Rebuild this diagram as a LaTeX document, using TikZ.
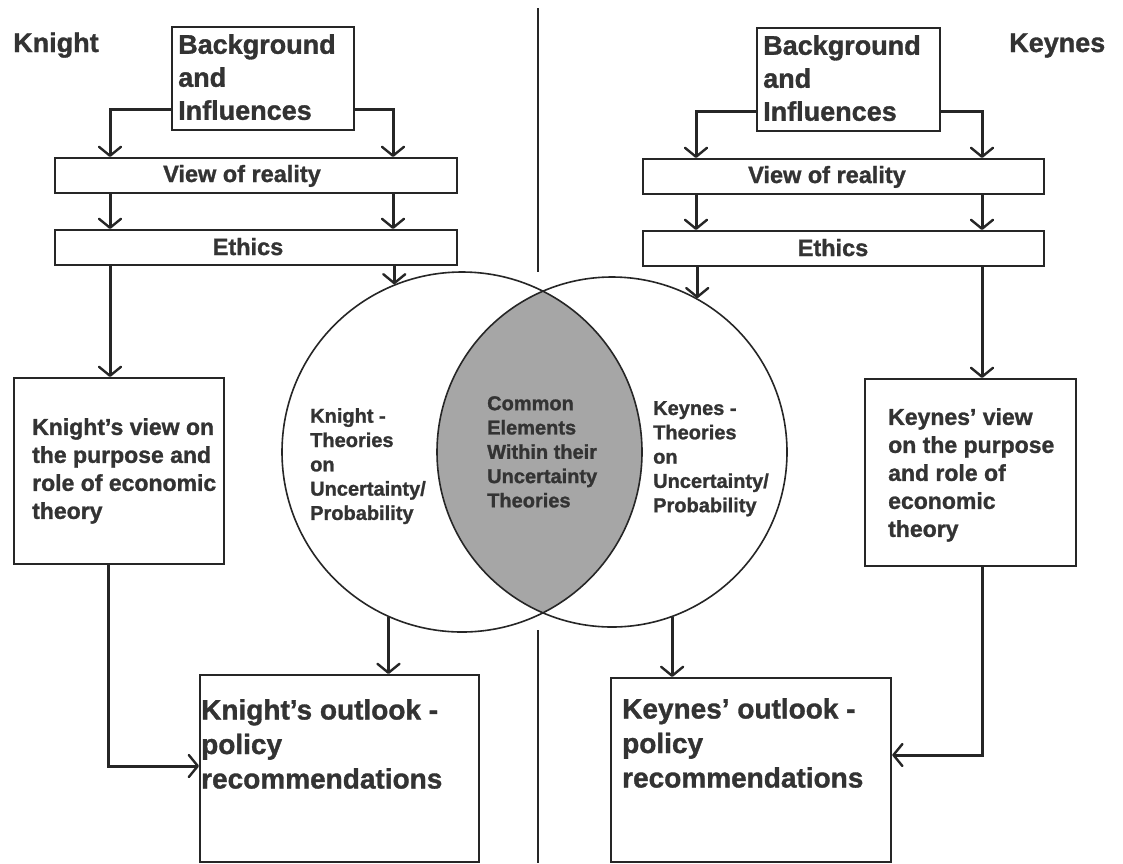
\documentclass[tikz,border=0pt]{standalone}
\usepackage{fontspec}
\setmainfont{Liberation Sans}[BoldFeatures={FakeBold=1.2}]
\usetikzlibrary{arrows.meta,calc}
\definecolor{ink}{HTML}{262626}
\definecolor{txt}{HTML}{333333}
\definecolor{lens}{HTML}{A6A6A6}
\begin{document}
\begin{tikzpicture}[x=1pt,y=-1pt,
  box/.style={draw=ink,line width=2.2pt,rectangle,inner sep=0pt,anchor=north west},
  arr/.style={draw=ink,line width=3pt,-{Straight Barb[length=9pt,width=22pt,line width=2.4pt,round]}},
  sep/.style={draw=ink,line width=2.6pt},
  ring/.style={circle,draw=ink,line width=1.6pt,inner sep=0pt},
  t27/.style={font=\bfseries\fontsize{27}{33}\selectfont,text=txt,inner sep=0pt,align=left},
  t28/.style={font=\bfseries\fontsize{28}{34.5}\selectfont,text=txt,inner sep=0pt,align=left},
  t23/.style={font=\bfseries\fontsize{23}{28}\selectfont,text=txt,inner sep=0pt,align=left},
  t22/.style={font=\bfseries\fontsize{23.5}{26}\selectfont,text=txt,inner sep=0pt},
  t20/.style={font=\bfseries\fontsize{20}{24.3}\selectfont,text=txt,inner sep=0pt,align=left}
]
\useasboundingbox[fill=white] (0,0) rectangle (1123,863);

% divider
\draw[sep] (538,8) -- (538,272);
\draw[sep] (538,630) -- (538,863);

% labels
\node[t27,anchor=base west] (knightlbl) at (13,52) {Knight};
\node[t27,anchor=base west] (keyneslbl) at (1009,52) {Keynes};

% background boxes
\node[box,minimum width=182pt,minimum height=103pt] (bgL) at (171,26) {};
\node[t27,anchor=north west] (bgLt) at (178,34) {Background\\and\\Influences};
\node[box,minimum width=183pt,minimum height=103pt] (bgR) at (756,27) {};
\node[t27,anchor=north west] (bgRt) at (763,35) {Background\\and\\Influences};

% view of reality
\node[box,minimum width=402pt,minimum height=35pt] (viewL) at (54,157) {};
\node[t22,anchor=base] (viewLt) at (242,182) {View of reality};
\node[box,minimum width=401pt,minimum height=35pt] (viewR) at (642,158) {};
\node[t22,anchor=base] (viewRt) at (827,183) {View of reality};

% ethics
\node[box,minimum width=402pt,minimum height=35pt] (ethL) at (54,229) {};
\node[t22,anchor=base] (ethLt) at (248,255) {Ethics};
\node[box,minimum width=401pt,minimum height=35pt] (ethR) at (642,230) {};
\node[t22,anchor=base] (ethRt) at (833,256) {Ethics};

% venn
\begin{scope}
  \clip (462,452) circle (180);
  \fill[lens] (612,452) circle (175);
\end{scope}
\node[ring,minimum size=360pt] (cL) at (462,452) {};
\node[ring,minimum size=350pt] (cR) at (612,452) {};
\node[t20,anchor=north west] (cLt) at (310,408) {Knight -\\Theories\\on\\Uncertainty/\\Probability};
\node[t20,anchor=north west] (cMt) at (487,396) {Common\\Elements\\Within their\\Uncertainty\\Theories};
\node[t20,anchor=north west] (cRt) at (653,401) {Keynes -\\Theories\\on\\Uncertainty/\\Probability};

% view on purpose boxes
\node[box,minimum width=210pt,minimum height=186pt] (kvL) at (13,377) {};
\node[t23,anchor=north west] (kvLt) at (32,418) {Knight's view on\\the purpose and\\role of economic\\theory};
\node[box,minimum width=211pt,minimum height=187pt] (kvR) at (864,378) {};
\node[t23,anchor=north west] (kvRt) at (888,408) {Keynes' view\\on the purpose\\and role of\\economic\\theory};

% outlook boxes
\node[box,minimum width=279pt,minimum height=187pt] (koL) at (199,674) {};
\node[t28,anchor=north west] (koLt) at (201,699) {Knight's outlook -\\policy\\recommendations};
\node[box,minimum width=280pt,minimum height=184pt] (koR) at (610,677) {};
\node[t28,anchor=north west] (koRt) at (622,698) {Keynes' outlook -\\policy\\recommendations};

% connectors left
\draw[arr] ([yshift=22pt]bgL.south west) -| (110,0 |- viewL.north);
\draw[arr] ([yshift=22pt]bgL.south east) -| (393,0 |- viewL.north);
\draw[arr] (110,0 |- viewL.south) -- (110,0 |- ethL.north);
\draw[arr] (393,0 |- viewL.south) -- (393,0 |- ethL.north);
\draw[arr] (110,0 |- ethL.south) -- (110,0 |- kvL.north);
\draw[arr] (cL.112.5 |- ethL.south) -- (cL.112.5);
\draw[arr] (cL.246.4) -- (cL.246.4 |- koL.north);
\draw[arr] (108,0 |- kvL.south) |- (koL.west |- 0,766);

% connectors right
\draw[arr] ([yshift=21pt]bgR.south west) -| (696,0 |- viewR.north);
\draw[arr] ([yshift=21pt]bgR.south east) -| (982,0 |- viewR.north);
\draw[arr] (696,0 |- viewR.south) -- (696,0 |- ethR.north);
\draw[arr] (982,0 |- viewR.south) -- (982,0 |- ethR.north);
\draw[arr] (cR.61.3 |- ethR.south) -- (cR.61.3);
\draw[arr] (982,0 |- ethR.south) -- (982,0 |- kvR.north);
\draw[arr] (cR.290.4) -- (cR.290.4 |- koR.north);
\draw[arr] (982,0 |- kvR.south) |- (koR.east |- 0,755);
\end{tikzpicture}
\end{document}
